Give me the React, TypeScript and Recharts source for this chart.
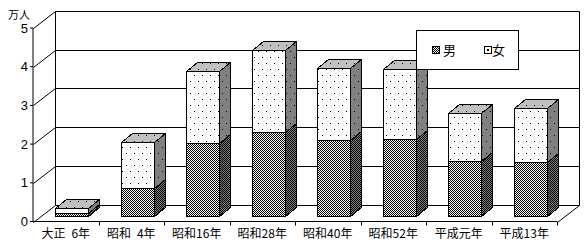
import { BarChart, Bar, XAxis, YAxis, CartesianGrid, Legend, Label } from "recharts";

const categories = ["大正\u20026年", "昭和\u20024年", "昭和16年", "昭和28年", "昭和40年", "昭和52年", "平成元年", "平成13年"];
const maleValues = [0.07, 0.72, 1.88, 2.16, 1.97, 1.99, 1.42, 1.39];
const femaleValues = [0.13, 1.18, 1.86, 2.14, 1.86, 1.82, 1.24, 1.4];
const yTicks = [0, 1, 2, 3, 4, 5];
const unitLabel = "万人";
const seriesNames = ["男", "女"];

const data = categories.map((cat, i) => ({ cat, male: maleValues[i], female: femaleValues[i] }));

// fake 3d: wall sits behind the front plane, bars sit part way in
const DEPTH_X = 22;
const DEPTH_Y = -17;
const BAR_SHIFT_X = 6;
const BAR_SHIFT_Y = -5.5;
const BAR_DX = 11;
const BAR_DY = -9;
const CJK = '"Noto Sans CJK JP", sans-serif';

const px = (v: number) => Math.round(v) + 0.5;

function Block(props: any) {
  const { x, y, width, height, front, side, top } = props;
  const l = px(x + BAR_SHIFT_X);
  const r = px(x + width + BAR_SHIFT_X);
  const t = px(y + BAR_SHIFT_Y);
  const b = px(y + height + BAR_SHIFT_Y);
  return (
    <g stroke="#000" strokeWidth={1} shapeRendering="crispEdges">
      <polygon
        points={`${r},${t} ${r + BAR_DX},${t + BAR_DY} ${r + BAR_DX},${b + BAR_DY} ${r},${b}`}
        fill={side}
      />
      {top && (
        <polygon
          points={`${l},${t} ${l + BAR_DX},${t + BAR_DY} ${r + BAR_DX},${t + BAR_DY} ${r},${t}`}
          fill={top}
        />
      )}
      <rect x={l} y={t} width={r - l} height={b - t} fill={front} />
    </g>
  );
}

const MaleShape = (p: any) => <Block {...p} front="url(#mF)" side="url(#mS)" />;
const FemaleShape = (p: any) => <Block {...p} front="url(#fF)" side="url(#fS)" top="url(#fT)" />;

function WallLine(props: any) {
  const { x1, y1, x2, index, y, height } = props;
  const yy = px(y1);
  const bx1 = px(x1 + DEPTH_X);
  const bx2 = px(x2 + DEPTH_X);
  const by = yy + DEPTH_Y;
  const isFloor = Math.abs(y1 - (y + height)) < 1;
  return (
    <g key={props.key} stroke="#000" strokeWidth={1} fill="none">
      <line x1={bx1} y1={by} x2={bx2} y2={by} />
      <line x1={px(x1)} y1={yy} x2={bx1} y2={by} />
      {isFloor && <line x1={px(x2)} y1={yy} x2={bx2} y2={by} />}
      {index === 0 && (
        <>
          <line x1={bx1} y1={px(y) + DEPTH_Y} x2={bx1} y2={px(y + height) + DEPTH_Y} />
          <line x1={bx2} y1={px(y) + DEPTH_Y} x2={bx2} y2={px(y + height) + DEPTH_Y} />
        </>
      )}
    </g>
  );
}

function CatTick(props: any) {
  const { x, y, payload, index, width } = props;
  const band = (width || 524) / categories.length;
  const left = px(x - band / 2);
  const right = px(x + band / 2);
  return (
    <g>
      {index > 0 && <line x1={left} y1={y} x2={left} y2={y + 4} stroke="#000" />}
      {index === categories.length - 1 && <line x1={right} y1={y} x2={right} y2={y + 4} stroke="#000" />}
      <text x={x} y={y + 11} textAnchor="middle" dominantBaseline="central" fontSize={12} fontFamily={CJK} fill="#000">
        {payload.value}
      </text>
    </g>
  );
}

function LegendBox() {
  return (
    <div
      style={{
        width: 103,
        height: 40,
        border: "1px solid #000",
        boxSizing: "border-box",
        background: "#fff",
        position: "relative",
        fontFamily: CJK,
        fontSize: 13,
        color: "#000",
      }}
    >
      <svg width={8} height={8} style={{ position: "absolute", left: 15, top: 15 }}>
        <rect x={0.5} y={0.5} width={7} height={7} fill="url(#mF)" stroke="#000" />
      </svg>
      <span style={{ position: "absolute", left: 26, top: 10, lineHeight: "18px" }}>{seriesNames[0]}</span>
      <svg width={8} height={8} style={{ position: "absolute", left: 67, top: 15 }}>
        <rect x={0.5} y={0.5} width={7} height={7} fill="#fff" stroke="#000" />
        <rect x={3} y={3} width={2} height={2} fill="#000" />
      </svg>
      <span style={{ position: "absolute", left: 75, top: 10, lineHeight: "18px" }}>{seriesNames[1]}</span>
    </div>
  );
}

export default function App() {
  return (
    <div style={{ position: "absolute", left: 0, top: 0, width: 586, height: 248, background: "#fff" }}>
      <BarChart
        width={586}
        height={248}
        data={data}
        margin={{ top: 28, right: 29, bottom: 0, left: 0 }}
        barCategoryGap="25%"
      >
        <defs>
          <pattern id="mF" width={2} height={2} patternUnits="userSpaceOnUse">
            <rect width={2} height={2} fill="#fff" />
            <rect width={1} height={1} fill="#000" />
            <rect x={1} y={1} width={1} height={1} fill="#000" />
          </pattern>
          <pattern id="mS" width={2} height={2} patternUnits="userSpaceOnUse">
            <rect width={2} height={2} fill="#808080" />
            <rect width={1} height={1} fill="#000" />
            <rect x={1} y={1} width={1} height={1} fill="#000" />
          </pattern>
          <pattern id="fF" width={8} height={12} patternUnits="userSpaceOnUse">
            <rect width={8} height={12} fill="#fff" />
            <rect x={2} y={3} width={1} height={1} fill="#000" />
            <rect x={6} y={9} width={1} height={1} fill="#000" />
          </pattern>
          <pattern id="fS" width={8} height={12} patternUnits="userSpaceOnUse">
            <rect width={8} height={12} fill="#808080" />
            <rect x={2} y={3} width={1} height={1} fill="#000" />
            <rect x={6} y={9} width={1} height={1} fill="#000" />
          </pattern>
          <pattern id="fT" width={8} height={12} patternUnits="userSpaceOnUse">
            <rect width={8} height={12} fill="#c0c0c0" />
            <rect x={2} y={3} width={1} height={1} fill="#000" />
            <rect x={6} y={9} width={1} height={1} fill="#000" />
          </pattern>
        </defs>
        <CartesianGrid vertical={false} horizontal={WallLine} />
        <XAxis
          dataKey="cat"
          height={26.5}
          tickSize={0}
          tickMargin={0}
          tickLine={false}
          axisLine={{ stroke: "#000" }}
          tick={CatTick}
          interval={0}
        />
        <YAxis
          width={33}
          domain={[0, 5]}
          ticks={yTicks}
          tickSize={3}
          tickMargin={2}
          axisLine={{ stroke: "#000" }}
          tickLine={{ stroke: "#000" }}
          tick={{ fill: "#000", fontSize: 13, fontFamily: "Liberation Sans, Arial, sans-serif" }}
        >
          <Label
            content={(p: any) => (
              <text
                x={(p.viewBox?.x ?? 0) + 8}
                y={(p.viewBox?.y ?? 28) - 14.5}
                dominantBaseline="central"
                fontSize={11}
                fontFamily={CJK}
                fill="#000"
              >
                {unitLabel}
              </text>
            )}
          />
        </YAxis>
        <Legend
          layout="horizontal"
          align="center"
          verticalAlign="middle"
          wrapperStyle={{ position: "absolute", left: 416, top: 30, width: 103, height: 40 }}
          content={LegendBox}
        />
        <Bar dataKey="male" stackId="s" shape={MaleShape} isAnimationActive={false} />
        <Bar dataKey="female" stackId="s" shape={FemaleShape} isAnimationActive={false} />
      </BarChart>
    </div>
  );
}
